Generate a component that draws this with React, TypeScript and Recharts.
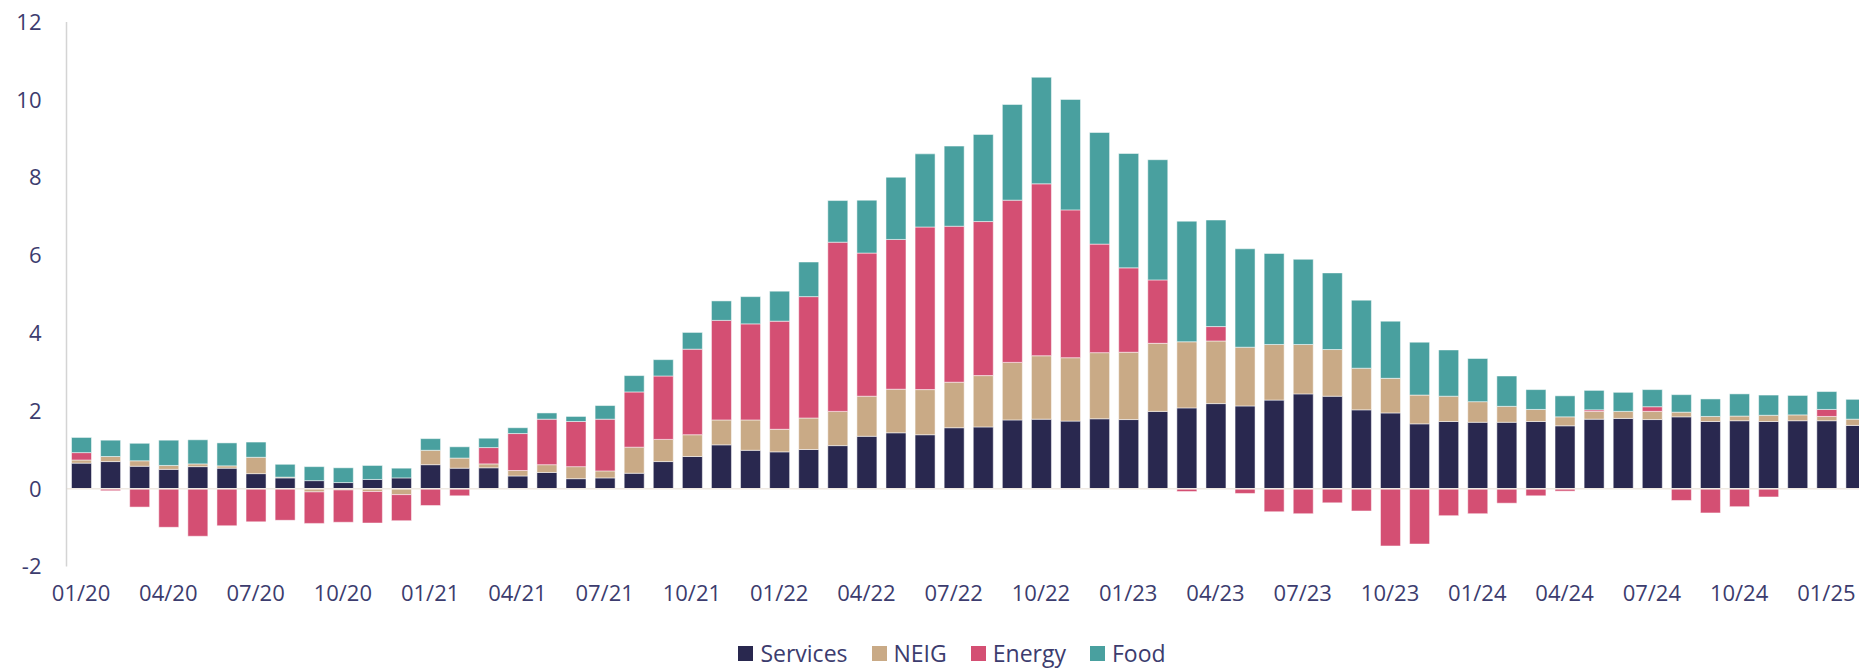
import React from 'react';
import { BarChart, Bar, XAxis, YAxis, ReferenceLine, Legend } from 'recharts';

const months = [
  '01/20','02/20','03/20','04/20','05/20','06/20','07/20','08/20','09/20','10/20','11/20','12/20',
  '01/21','02/21','03/21','04/21','05/21','06/21','07/21','08/21','09/21','10/21','11/21','12/21',
  '01/22','02/22','03/22','04/22','05/22','06/22','07/22','08/22','09/22','10/22','11/22','12/22',
  '01/23','02/23','03/23','04/23','05/23','06/23','07/23','08/23','09/23','10/23','11/23','12/23',
  '01/24','02/24','03/24','04/24','05/24','06/24','07/24','08/24','09/24','10/24','11/24','12/24',
  '01/25','02/25',
];

const services = [
  0.66, 0.70, 0.58, 0.50, 0.57, 0.53, 0.39, 0.28, 0.21, 0.16, 0.24, 0.28,
  0.62, 0.53, 0.54, 0.33, 0.42, 0.26, 0.28, 0.40, 0.70, 0.83, 1.13, 0.99,
  0.95, 1.01, 1.11, 1.35, 1.44, 1.39, 1.57, 1.59, 1.77, 1.79, 1.74, 1.80,
  1.78, 1.99, 2.08, 2.19, 2.13, 2.28, 2.44, 2.38, 2.03, 1.95, 1.67, 1.73,
  1.71, 1.71, 1.73, 1.62, 1.79, 1.81, 1.78, 1.85, 1.73, 1.75, 1.73, 1.75,
  1.75, 1.63,
];

const neig = [
  0.08, 0.13, 0.14, 0.10, 0.07, 0.06, 0.42, 0.02, -0.08, -0.03, -0.07, -0.15,
  0.37, 0.26, 0.10, 0.14, 0.20, 0.31, 0.18, 0.67, 0.57, 0.56, 0.64, 0.78,
  0.58, 0.81, 0.88, 1.03, 1.12, 1.16, 1.17, 1.32, 1.48, 1.63, 1.63, 1.70,
  1.73, 1.75, 1.70, 1.61, 1.51, 1.43, 1.27, 1.20, 1.07, 0.89, 0.74, 0.65,
  0.53, 0.41, 0.31, 0.23, 0.20, 0.18, 0.21, 0.12, 0.13, 0.12, 0.16, 0.15,
  0.11, 0.16,
];

const energy = [
  0.19, -0.05, -0.47, -0.99, -1.22, -0.95, -0.85, -0.81, -0.81, -0.83, -0.81, -0.67,
  -0.43, -0.18, 0.42, 0.95, 1.17, 1.16, 1.33, 1.42, 1.63, 2.20, 2.56, 2.47,
  2.78, 3.12, 4.35, 3.68, 3.85, 4.18, 4.01, 3.96, 4.17, 4.42, 3.80, 2.79,
  2.17, 1.63, -0.07, 0.37, -0.12, -0.59, -0.64, -0.36, -0.57, -1.47, -1.42, -0.69,
  -0.64, -0.37, -0.18, -0.06, 0.04, 0.00, 0.12, -0.30, -0.62, -0.46, -0.21, 0.00,
  0.18, 0.00,
];

const food = [
  0.39, 0.42, 0.45, 0.65, 0.62, 0.59, 0.39, 0.33, 0.36, 0.38, 0.36, 0.25,
  0.30, 0.29, 0.24, 0.15, 0.16, 0.13, 0.35, 0.42, 0.42, 0.43, 0.50, 0.70,
  0.77, 0.89, 1.07, 1.36, 1.60, 1.88, 2.06, 2.24, 2.46, 2.74, 2.84, 2.87,
  2.94, 3.09, 3.10, 2.74, 2.53, 2.34, 2.19, 1.97, 1.75, 1.47, 1.36, 1.19,
  1.11, 0.78, 0.51, 0.54, 0.50, 0.49, 0.44, 0.45, 0.45, 0.57, 0.52, 0.50,
  0.46, 0.51,
];

const yTicks = [-2, 0, 2, 4, 6, 8, 10, 12];

const seriesNames = ['Services', 'NEIG', 'Energy', 'Food'];
const colors: Record<string, string> = {
  Services: '#29284f',
  NEIG: '#c9aa86',
  Energy: '#d44f73',
  Food: '#49a09f',
};

const data = months.map((m, i) => ({
  month: m,
  Services: services[i],
  NEIG: neig[i],
  Energy: energy[i],
  Food: food[i],
}));

const textColor = '#3c3c6e';
const font = "'Open Sans', 'Noto Sans', sans-serif";

const renderLegend = () => (
  <div
    style={{
      display: 'flex',
      justifyContent: 'center',
      alignItems: 'center',
      height: 24,
      lineHeight: '24px',
      fontFamily: font,
      fontSize: 23,
      color: textColor,
    }}
  >
    {seriesNames.map((n, i) => (
      <div key={n} style={{ display: 'flex', alignItems: 'center', marginLeft: i === 0 ? 0 : 24 }}>
        <span style={{ width: 15, height: 15, background: colors[n], display: 'inline-block', marginRight: 7 }} />
        <span>{n}</span>
      </div>
    ))}
  </div>
);

export default function App() {
  return (
    <div style={{ position: 'fixed', left: 0, top: 0, width: 1859, height: 668, overflow: 'hidden', background: '#fff' }}>
      <BarChart
        width={1870}
        height={668}
        data={data}
        stackOffset="sign"
        barSize={20}
        margin={{ top: 22, right: 0, left: 0, bottom: 37.4 }}
      >
        <ReferenceLine y={0} stroke="#efe9e2" strokeWidth={1.5} />
        <XAxis
          dataKey="month"
          interval={2}
          height={40}
          axisLine={false}
          tickLine={false}
          tickSize={0}
          tickMargin={19}
          tick={{ fill: textColor, fontSize: 22, fontFamily: font }}
        />
        <YAxis
          width={66.5}
          domain={[-2, 12]}
          ticks={yTicks}
          allowDataOverflow
          axisLine={{ stroke: '#d4d4d4', strokeWidth: 1.5 }}
          tickLine={false}
          tickSize={0}
          tickMargin={25}
          tick={{ fill: textColor, fontSize: 22, fontFamily: font }}
        />
        <Legend
          verticalAlign="bottom"
          content={renderLegend}
          wrapperStyle={{ top: 641, bottom: 'auto', left: 17 }}
        />
        {seriesNames.map((n) => (
          <Bar
            key={n}
            dataKey={n}
            stackId="a"
            fill={colors[n]}
            stroke="rgba(255,255,255,0.5)"
            strokeWidth={1}
            isAnimationActive={false}
          />
        ))}
      </BarChart>
    </div>
  );
}
